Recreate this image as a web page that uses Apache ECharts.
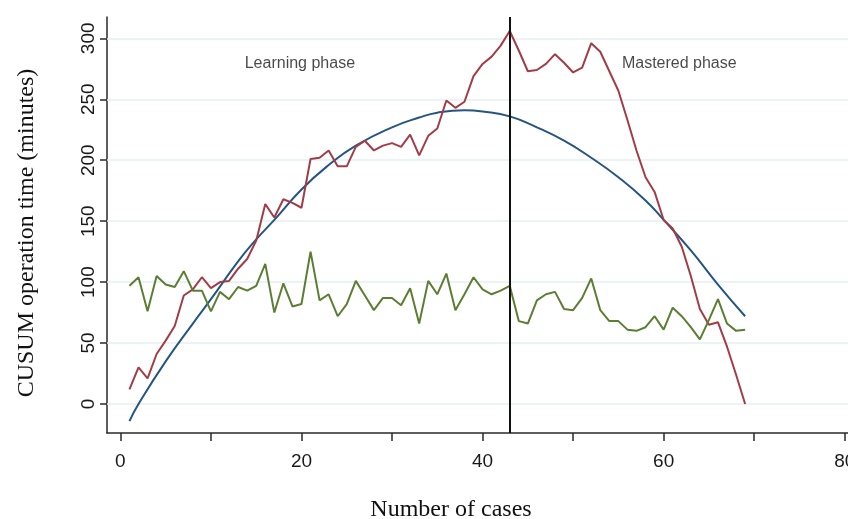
<!DOCTYPE html>
<html>
<head>
<meta charset="utf-8">
<script src="https://cdn.jsdelivr.net/npm/echarts@6/dist/echarts.min.js"></script>
<style>
html,body{margin:0;padding:0;background:#fff;}
#chart{width:848px;height:519px;}
</style>
</head>
<body>
<div id="chart"></div>
<script>
// ---- data ----
const cases = [1,2,3,4,5,6,7,8,9,10,11,12,13,14,15,16,17,18,19,20,21,22,23,24,25,26,27,28,29,30,31,32,33,34,35,36,37,38,39,40,41,42,43,44,45,46,47,48,49,50,51,52,53,54,55,56,57,58,59,60,61,62,63,64,65,66,67,68,69];
const cusumRed = [12,30,21,41,52,64,89,94,104,95,100,101,111,119,134,164,153,168,165,161,201,202,208,195,195,211,216,208,212,214,211,221,204,220,226,249,243,248,269,279,285,294,306,290,273,274,279,287,280,272,276,296,289,273,257,233,208,186,174,151,144,129,105,78,65,67,47,24,0];
const cusumGreen = [97,104,76,105,98,96,109,93,93,76,92,86,96,93,97,115,75,99,80,82,125,85,90,72,82,101,89,77,87,87,81,95,66,101,90,107,77,90,104,94,90,93,97,68,66,85,90,92,78,77,87,103,77,68,68,61,60,63,72,61,79,72,63,53,69,86,66,60,61];
const fitCases = [1,2,5,8,10,13,15,17,20,23,26,30,33,35,38,40,43,46,49,52,55,58,60,63,66,69];
const fitValues = [-14,0,35,66,86,117,135,151,176,196,212,227,235,239,241,240,236,227,216,202,186,167,151,126,98,72];
const phaseChangeCase = 43;
const xTicks = [0,10,20,30,40,50,60,70,80];
const xLabels = [0,20,40,60,80];
const yTicks = [0,50,100,150,200,250,300];
const annotations = [
  {name:'Learning phase', x:13.73, y:279.5},
  {name:'Mastered phase', x:55.39, y:279.5}
];
const xTitle = 'Number of cases';
const yTitle = 'CUSUM operation time (minutes)';

// ---- build ----
const pairs = (xs, ys) => xs.map((x, i) => [x, ys[i]]);
const axisColor = '#2a2a2a';
const tickFont = "'Liberation Sans', Arial, sans-serif";

const chart = echarts.init(document.getElementById('chart'), null, {renderer:'canvas'});
chart.setOption({
  animation:false,
  backgroundColor:'#fff',
  grid:{left:107, top:17, right:0, bottom:86, containLabel:false, outerBoundsMode:'none'},
  xAxis:{
    type:'value', min:-1.48, max:80.36,
    axisLine:{show:true, onZero:false, lineStyle:{color:axisColor, width:1.5}},
    axisTick:{show:true, customValues:xTicks, length:8, lineStyle:{color:axisColor, width:1.5}},
    axisLabel:{show:true, customValues:xLabels, fontSize:19, fontFamily:tickFont, color:'#1a1a1a', margin:19},
    splitLine:{show:false}
  },
  yAxis:{
    type:'value', min:-23.8, max:317.5,
    axisLine:{show:true, onZero:false, lineStyle:{color:axisColor, width:1.5}},
    axisTick:{show:true, customValues:yTicks, length:7, lineStyle:{color:axisColor, width:1.5}},
    axisLabel:{show:true, customValues:yTicks, rotate:90, fontSize:19, fontFamily:tickFont, color:'#1a1a1a', margin:9},
    splitLine:{show:false}
  },
  graphic:[
    {type:'text', x:26.7, y:233, rotation:Math.PI/2, z:10,
     style:{text:yTitle, font:"24px 'Liberation Serif', serif", fill:'#111', textAlign:'center', textVerticalAlign:'middle', align:'center', verticalAlign:'middle'}},
    {type:'text', x:451, y:510, z:10,
     style:{text:xTitle, font:"24px 'Liberation Serif', serif", fill:'#111', textAlign:'center', textVerticalAlign:'middle', align:'center', verticalAlign:'middle'}}
  ],
  series:[
    {
      type:'line', name:'grid', data:[], silent:true, z:1,
      markLine:{silent:true, symbol:'none', z:1, label:{show:false},
        lineStyle:{color:'#e6eff2', width:1.5, type:'solid'},
        data: yTicks.map(v => ({yAxis:v}))}
    },
    {
      type:'line', name:'Quadratic fit', data:pairs(fitCases, fitValues), smooth:0.5,
      showSymbol:false, symbol:'none', z:3,
      lineStyle:{color:'#255582', width:2}
    },
    {
      type:'line', name:'CUSUM', data:pairs(cases, cusumRed),
      showSymbol:false, symbol:'none', z:4,
      lineStyle:{color:'#a23d47', width:2}
    },
    {
      type:'line', name:'Operation time', data:pairs(cases, cusumGreen),
      showSymbol:false, symbol:'none', z:4,
      lineStyle:{color:'#5b7e33', width:2},
      markLine:{silent:true, symbol:'none', z:6, label:{show:false},
        lineStyle:{color:'#111', width:2, type:'solid'},
        data:[{xAxis:phaseChangeCase}]}
    },
    {
      type:'scatter', name:'annotations', symbolSize:0, z:7,
      data: annotations.map(a => ({name:a.name, value:[a.x, a.y]})),
      label:{show:true, position:'right', distance:0, formatter:p => p.name,
        fontSize:16, fontFamily:"'Liberation Sans', Arial, sans-serif", color:'#1a1a1a'}
    }
  ]
});
</script>
</body>
</html>
